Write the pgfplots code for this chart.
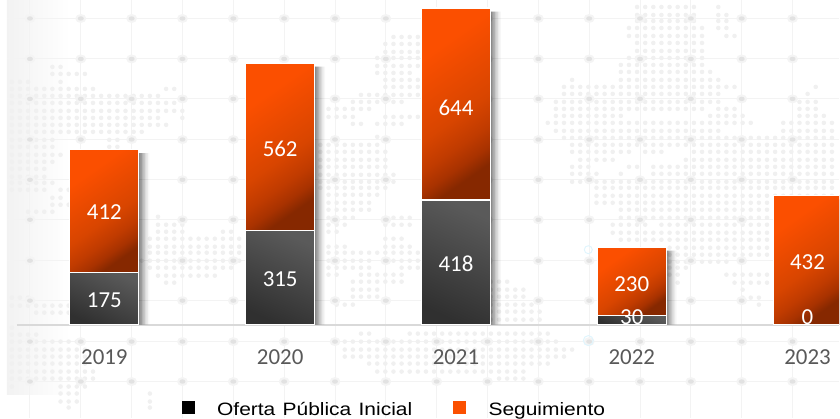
\documentclass[border=0pt]{standalone}
\usepackage{pgfplots}
\usepackage{pgfplotstable}
\pgfplotsset{compat=1.18}
\usepackage{fontspec}
\setmainfont{Carlito}
\newfontfamily\legfont[FakeStretch=1.17,WordSpace=1.25]{Liberation Sans}
\definecolor{dotc}{HTML}{F0F0F0}
\definecolor{gridc}{HTML}{F3F3F3}
\definecolor{nodeo}{HTML}{F4F4F4}
\definecolor{nodei}{HTML}{E2E2E2}
\definecolor{orT}{HTML}{FB4F00}
\definecolor{orM}{HTML}{D84500}
\definecolor{orN}{HTML}{C03B00}
\definecolor{orL}{HTML}{A83200}
\definecolor{orB}{HTML}{862800}
\definecolor{gyT}{HTML}{5A5A5A}
\definecolor{gyB}{HTML}{303030}
\definecolor{axc}{HTML}{D9D9D9}
\definecolor{txt}{HTML}{595959}
\pgfdeclareverticalshading{orangeramp}{100bp}{color(0bp)=(orB); color(26bp)=(orB); color(31bp)=(orL); color(37bp)=(orN); color(46bp)=(orM); color(70bp)=(orT); color(100bp)=(orT)}
\pgfplotsset{
  base/.style={
    scale only axis, width=823bp, height=418bp,
    at={(17bp,0bp)}, anchor=north west,
    xmin=-0.4972, xmax=4.179, ymin=-311.6, ymax=1088.8,
  },
}
\pgfplotstableread{
x t
0 575
1 865
2 1050
3 248
4 420
}\shadowtable
\pgfplotstableread{
x y l
0 87 175
0 381 412
1 157 315
1 596 562
2 209 418
2 733 644
3 30 30
3 140 230
4 30 0
4 216 432
}\labeltable
\begin{document}
\begin{tikzpicture}
\begin{scope}[x=1bp,y=-1bp]
\path[use as bounding box] (0,0) rectangle (840,418);
\shade[left color=black!5, right color=white] (7,0) rectangle (70,395);
% faint grid
\foreach \gx in {30,80.9,131.8,182.7,233.6,284.5,335.4,386.3,437.2,488.1,539,589.9,640.8,691.7,742.6,793.5}
  \draw[gridc,line width=1bp] (\gx,0)--(\gx,418);
\foreach \gy in {18.5,59,99,139.7,180,220,261,301,342,382}
  \draw[gridc,line width=1bp] (7,\gy)--(840,\gy);
% dotted map: y / x from / x to
\foreach \ya/\xa/\xb in {
67/52/68,74/52/85,82/12/28,82/60/68,89/12/95,89/165/177,96/12/160,103/12/175,111/12/190,118/12/165,118/182/184,125/12/168,132/12/143,140/12/60,140/108/118,147/12/52,147/108/118,155/12/65,162/12/60,169/12/45,177/12/45,183/12/60,190/12/45,190/60/70,198/50/62,205/50/70,212/27/60,
217/155/160,225/155/185,232/155/185,232/220/235,239/150/245,247/150/240,253/150/240,261/145/240,268/150/235,276/160/215,283/165/175,
298/12/30,306/12/70,313/40/70,328/12/15,335/12/40,342/12/80,350/12/85,357/12/85,364/12/90,372/12/95,379/12/95,387/12/15,387/60/85,394/60/80,394/150/152,402/60/80,402/150/152,408/70/72,408/150/152,
37/390/420,44/385/420,52/385/420,58/375/420,66/375/420,73/375/412,80/385/420,87/385/420,95/360/420,102/350/405,109/325/370,117/325/355,117/385/420,124/350/365,124/375/405,137/375/385,145/320/380,152/320/390,160/320/390,167/320/390,175/320/395,182/320/395,188/320/390,195/325/380,203/325/375,210/325/370,218/325/355,218/385/410,225/325/345,225/385/410,232/325/340,239/385/405,247/325/345,247/385/415,253/325/380,253/385/420,261/325/375,261/385/420,268/325/375,268/400/420,275/325/340,275/360/405,282/350/405,290/350/380,297/350/380,305/340/355,
282/495/510,290/495/525,297/495/530,305/495/535,312/495/545,320/495/545,
334/365/375,334/410/550,342/345/560,350/345/575,357/345/570,364/370/550,372/380/530,379/500/530,
7/637/697,7/720/722,15/637/697,15/717/727,21/637/697,21/717/727,28/627/705,28/717/727,36/627/705,36/727/735,43/637/705,51/637/705,58/627/705,65/620/705,72/620/712,80/570/580,80/620/720,87/563/738,87/815/817,94/563/720,94/808/810,102/555/720,102/800/820,109/555/705,109/720/735,109/800/820,116/555/625,116/710/745,116/800/825,123/547/752,123/785/840,131/555/725,131/785/840,138/563/840,145/570/840,152/570/630,152/650/665,152/695/840,160/580/620,160/685/840,167/570/590,167/630/640,167/652/840,174/570/600,174/620/622,174/652/840,182/570/840,188/595/840,196/595/840,203/595/770,210/620/770,218/620/770,225/610/650,225/660/770,233/610/640,233/650/770,240/620/770,248/668/770,255/668/770,262/670/730,268/670/690,275/670/680,275/725/770,283/680/682,283/735/770,290/740/750,298/740/760,305/760/765}
{
  \pgfmathsetmacro{\xs}{3.7+8.13*round((\xa-3.7)/8.13)}
  \draw[dotc,line width=4.6bp,line cap=round,dash pattern=on 0pt off 8.13bp] (\xs,\ya)--(\xb+0.5,\ya);
}
% grid nodes
\foreach \gx in {30,80.9,131.8,182.7,233.6,284.5,335.4,386.3,437.2,488.1,539,589.9,640.8,691.7,742.6,793.5}
  \foreach \gy in {18.5,59,99,139.7,180,220,261,301,342,382} {
    \fill[nodeo] (\gx,\gy) ellipse [x radius=5.5,y radius=4.5];
    \fill[nodei] (\gx,\gy) ellipse [x radius=3,y radius=2.2];
  }
% faint teal marks
\draw[cyan!12,line width=1bp] (589,250) circle (4);
\draw[cyan!12,line width=1bp] (589,341) circle (5);
\end{scope}

% axis line and year labels
\begin{axis}[base, clip=true,
  axis x line=middle, axis y line=none,
  axis line style={axc, line width=2bp, -},
  hide obscured x ticks=false,
  xtick={0,1,2,3,4}, xticklabels={2019,2020,2021,2022,2023},
  major tick length=0pt,
  xticklabel style={text=txt, font=\fontsize{23}{25}\selectfont, yshift=-22bp},
]
\end{axis}

% soft shadows
\begin{axis}[base, hide axis, ybar, clip=true]
\addplot[draw=none, fill=black, fill opacity=0.12, bar width=40bp, bar shift=16bp] table[x=x,y=t] {\shadowtable};
\addplot[draw=none, fill=black, fill opacity=0.12, bar width=40bp, bar shift=17.5bp] table[x=x,y=t] {\shadowtable};
\addplot[draw=none, fill=black, fill opacity=0.10, bar width=40bp, bar shift=19bp] table[x=x,y=t] {\shadowtable};
\addplot[draw=none, fill=black, fill opacity=0.09, bar width=40bp, bar shift=20.5bp] table[x=x,y=t] {\shadowtable};
\addplot[draw=none, fill=black, fill opacity=0.07, bar width=40bp, bar shift=22bp] table[x=x,y=t] {\shadowtable};
\addplot[draw=none, fill=black, fill opacity=0.05, bar width=40bp, bar shift=23.5bp] table[x=x,y=t] {\shadowtable};
\addplot[draw=none, fill=black, fill opacity=0.03, bar width=40bp, bar shift=25bp] table[x=x,y=t] {\shadowtable};
\end{axis}

% stacked bars, one axis per year so that each bar has its own gradient
\foreach \i/\a/\b in {0/175/412,1/315/562,2/418/644,3/30/230,4/0/432} {
\begin{axis}[base, hide axis, ybar stacked, bar width=69bp, clip=true]
\addplot[draw=white, line width=1.1bp, top color=gyT, bottom color=gyB, shading angle=-25]
  coordinates {(\i,\a)};
\addplot[draw=white, line width=1.1bp, shade, shading=orangeramp, shading angle=35]
  coordinates {(\i,\b)};
\end{axis}
}

% data labels and legend
\begin{axis}[base, hide axis, clip=false,
  legend columns=2,
  legend style={draw=none, fill=none, inner sep=0pt, outer sep=0pt,
    font=\legfont\fontsize{18}{20}\selectfont, text=black,
    at={(rel axis cs:0.2005,0.0190)}, anchor=west,
    /tikz/every odd column/.append style={column sep=21bp},
    /tikz/every even column/.append style={column sep=39bp},
    cells={anchor=west}},
  legend image code/.code={\fill[#1] (0bp,-4bp) rectangle (12bp,8bp);},
]
\addplot[draw=none, mark=none, forget plot,
  nodes near coords, point meta=explicit symbolic,
  nodes near coords style={anchor=center, inner sep=0pt, yshift=-1.5bp, text=white, font=\fontsize{23}{25}\selectfont}]
  table[meta=l] {\labeltable};
\addlegendimage{black}
\addlegendentry{Oferta Pública Inicial}
\addlegendimage{orT!98!orange}
\addlegendentry{Seguimiento}
\end{axis}
\end{tikzpicture}
\end{document}
